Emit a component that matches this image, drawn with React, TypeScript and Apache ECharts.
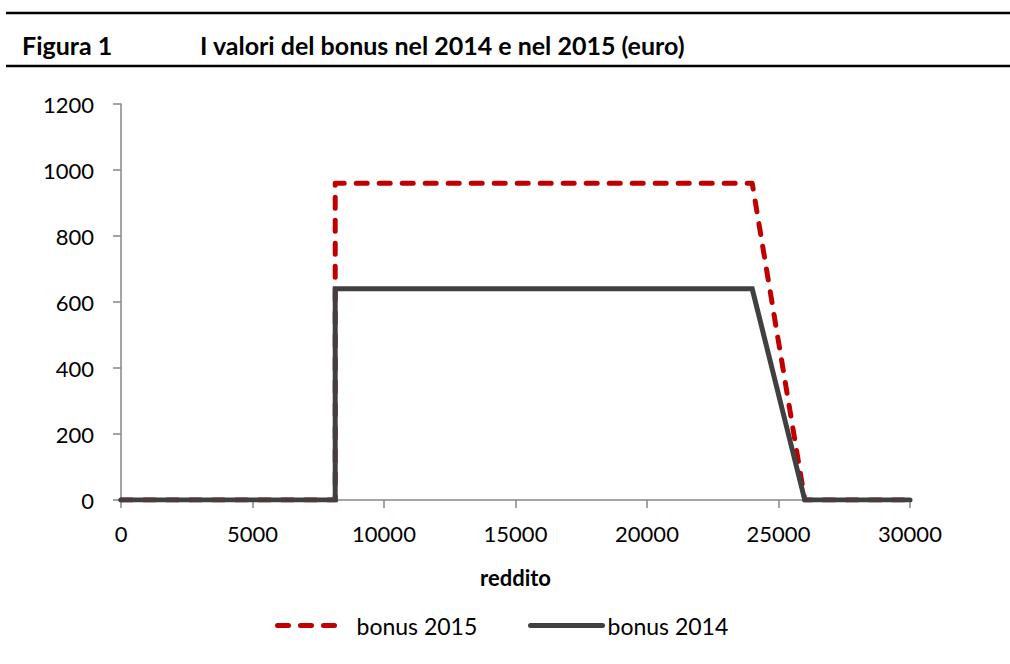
import React, { useEffect, useRef } from "react";
import * as echarts from "echarts";

const reddito = [0, 8145, 8145, 24000, 26000, 30000];
const bonus2015 = [0, 0, 960, 960, 0, 0];
const bonus2014 = [0, 0, 640, 640, 0, 0];
const seriesNames = ["bonus 2015", "bonus 2014"];
const titleLabel = "Figura 1";
const titleText = "I valori del bonus nel 2014 e nel 2015 (euro)";
const xName = "reddito";

const FONT = "Lato, 'Open Sans', sans-serif";

export default function App() {
  const ref = useRef<HTMLDivElement>(null);
  useEffect(() => {
    if (!ref.current) return;
    const chart = echarts.init(ref.current, undefined, { renderer: "svg" });
    const pairs = (ys: number[]) => reddito.map((x, i) => [x, ys[i]]);
    const plain = (v: number) => String(v);
    chart.setOption({
      animation: false,
      backgroundColor: "#ffffff",
      textStyle: { fontFamily: FONT },
      graphic: [
        { type: "line", shape: { x1: 6, y1: 13, x2: 1010, y2: 13 }, style: { stroke: "#000", lineWidth: 2.5 } },
        { type: "line", shape: { x1: 6, y1: 66, x2: 1010, y2: 66 }, style: { stroke: "#000", lineWidth: 2.5 } },
        { type: "text", x: 22, y: 45, style: { text: titleLabel, font: `bold 25px ${FONT}`, fill: "#000", textVerticalAlign: "middle" } },
        { type: "text", x: 200, y: 45, style: { text: titleText, font: `bold 25px ${FONT}`, fill: "#000", textVerticalAlign: "middle" } },
      ],
      legend: [
        {
          data: [seriesNames[0]],
          left: 275,
          top: 614,
          padding: 0,
          itemWidth: 63,
          itemHeight: 14,
          itemStyle: { opacity: 0 },
          lineStyle: { width: 5 },
          textStyle: { fontSize: 23, color: "#000", fontFamily: FONT, padding: [0, 0, 0, 11] },
        },
        {
          data: [seriesNames[1]],
          left: 528,
          top: 614,
          padding: 0,
          itemWidth: 72,
          itemHeight: 14,
          itemStyle: { opacity: 0 },
          lineStyle: { width: 5 },
          textStyle: { fontSize: 23, color: "#000", fontFamily: FONT },
        },
      ],
      grid: { left: 121, right: 100, top: 104, bottom: 164, containLabel: false },
      xAxis: {
        type: "value",
        min: 0,
        max: 30000,
        interval: 5000,
        name: xName,
        nameLocation: "middle",
        nameGap: 66,
        nameTextStyle: { fontSize: 22, fontWeight: "bold", color: "#000", fontFamily: FONT },
        axisLine: { lineStyle: { color: "#868686", width: 1.5 } },
        axisTick: { show: true, length: 8, lineStyle: { color: "#868686", width: 1.5 } },
        axisLabel: { fontSize: 22, color: "#000", margin: 22, fontFamily: FONT, formatter: plain },
        splitLine: { show: false },
      },
      yAxis: {
        type: "value",
        min: 0,
        max: 1200,
        interval: 200,
        axisLine: { show: true, lineStyle: { color: "#868686", width: 1.5 } },
        axisTick: { show: true, length: 8, lineStyle: { color: "#868686", width: 1.5 } },
        axisLabel: { fontSize: 22, color: "#000", margin: 27, fontFamily: FONT, formatter: plain },
        splitLine: { show: false },
      },
      series: [
        {
          name: seriesNames[0],
          type: "line",
          data: pairs(bonus2015),
          symbol: "none",
          color: "#C00000",
          lineStyle: { color: "#C00000", width: 5, type: [11, 12], cap: "round", join: "round" },
          z: 2,
        },
        {
          name: seriesNames[1],
          type: "line",
          data: pairs(bonus2014),
          symbol: "none",
          color: "#404040",
          lineStyle: { color: "#404040", width: 5, cap: "round", join: "miter" },
          z: 3,
        },
      ],
    });
    return () => chart.dispose();
  }, []);
  return <div ref={ref} style={{ width: 1010, height: 664, position: "absolute", left: 0, top: 0 }} />;
}
